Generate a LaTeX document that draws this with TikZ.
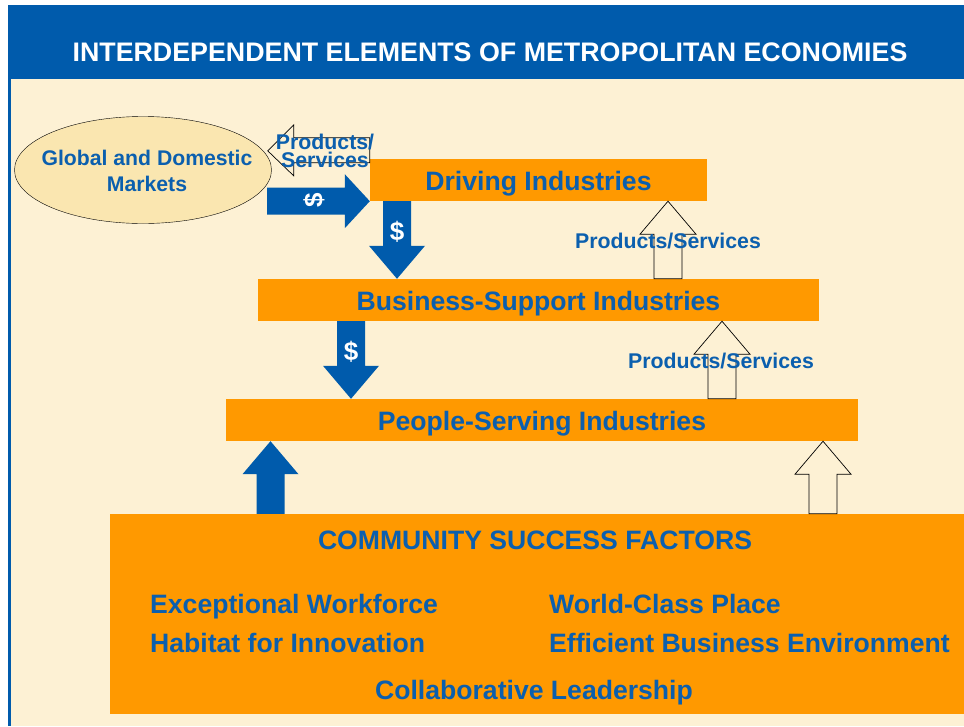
\documentclass[tikz,border=0pt]{standalone}
\usepackage{fontspec}
\setmainfont{Liberation Sans}
\usepackage{tikz}
\usetikzlibrary{calc,shapes.geometric}

\definecolor{hdblue}{HTML}{005BAC}
\definecolor{txtblue}{HTML}{0B5FAE}
\definecolor{indorange}{HTML}{FF9900}
\definecolor{cream}{HTML}{FDF1D4}
\definecolor{mktyellow}{HTML}{FAE6B0}

\tikzset{
  indbox/.style={fill=indorange, text=txtblue, inner sep=0, minimum height=42,
                 text height=24, text depth=3,
                 font=\bfseries\fontsize{26.6}{30}\selectfont},
  bluearr/.style={fill=hdblue, draw=none},
  openarr/.style={fill=cream, draw=black, line width=0.7pt},
  dollar/.style={text=white, inner sep=0, font=\bfseries\fontsize{26}{30}\selectfont},
  prodlabel/.style={text=txtblue, inner sep=0, font=\bfseries\fontsize{21.3}{18.5}\selectfont},
  factor/.style={text=txtblue, inner sep=0, font=\bfseries\fontsize{26.6}{30}\selectfont}
}

% block arrow going up from #3 to #4 at x=#2
\newcommand{\blockup}[4]{%
  \draw[#1] let \p1=(#3.north), \p2=(#4.south) in
    (#2-14,\y1) -- (#2-14,\y2-33) -- (#2-28,\y2-33) -- (#2,\y2)
    -- (#2+28,\y2-33) -- (#2+14,\y2-33) -- (#2+14,\y1) -- cycle;}
% block arrow going down from #3 to #4 at x=#2
\newcommand{\blockdown}[4]{%
  \draw[#1] let \p1=(#3.south), \p2=(#4.north) in
    (#2-14,\y1) -- (#2-14,\y2+33) -- (#2-28,\y2+33) -- (#2,\y2)
    -- (#2+28,\y2+33) -- (#2+14,\y2+33) -- (#2+14,\y1) -- cycle;}

\begin{document}
\begin{tikzpicture}[x=1pt,y=-1pt]
\useasboundingbox (0,0) rectangle (964,726);

%the frame
    \fill[hdblue] (8,5) rectangle (964,726);
    \fill[cream] (11,79) rectangle (964,726);
    \node[text=white, font=\bfseries\fontsize{26.8}{30}\selectfont] (title) at (490,52)
        {INTERDEPENDENT ELEMENTS OF METROPOLITAN ECONOMIES};

%the markets
    \node[ellipse, draw=black, thin, fill=mktyellow, minimum width=257, minimum height=107,
          inner sep=0] (mkt) at (143,170) {};
    \node[text=txtblue, align=center, font=\bfseries\fontsize{21.2}{26}\selectfont] (mkttxt)
        at (147,171) {Global and Domestic\\Markets};

%the industries
    \node[indbox, minimum width=337] (drive) at (538.5,180) {Driving Industries};
    \node[indbox, minimum width=561] (busi) at (538.5,300) {Business-Support Industries};
    \node[indbox, minimum width=632] (people) at (542,420) {People-Serving Industries};
    \node[fill=indorange, inner sep=0, minimum width=854, minimum height=200] (csf) at (537,614) {};

%the arrows
    \draw[openarr] let \p1=(drive.north west), \p2=(mkt.east) in
        (\x1,\y1+21) -- (\x2+22,\y1+21) -- (\x2+22,\y1+34) -- (\x2-4,\y1+8)
        -- (\x2+22,\y1-17) -- (\x2+22,\y1-4) -- (\x1,\y1-4) -- cycle;
    \draw[bluearr] let \p1=(drive.south west) in
        (267,\y1+13.5) -- (\x1-25,\y1+13.5) -- (\x1-25,\y1+27) -- (\x1,\y1)
        -- (\x1-25,\y1-27) -- (\x1-25,\y1-13.5) -- (267,\y1-13.5) -- cycle;
    \blockdown{bluearr}{397}{drive}{busi}
    \blockdown{bluearr}{351}{busi}{people}
    \blockup{openarr}{668}{busi}{drive}
    \blockup{openarr}{722}{people}{busi}
    \blockup{bluearr}{270.5}{csf}{people}
    \blockup{openarr}{823}{csf}{people}

% place the labels
    \node[dollar, rotate=90] (d1) at (314,200) {\$};
    \node[dollar] (d2) at (397,232) {\$};
    \node[dollar] (d3) at (351,352) {\$};
    \node[prodlabel, align=center] (ps1) at (325,151) {Products/\\Services};
    \node[prodlabel] (ps2) at (668,241) {Products/Services};
    \node[prodlabel] (ps3) at (721,361) {Products/Services};

% the success factors
    \node[factor, anchor=base] (csfhead) at (535,549) {COMMUNITY SUCCESS FACTORS};
\foreach \txt/\x/\y [count=\i] in {Exceptional Workforce/150/613, World-Class Place/549/613,
        Habitat for Innovation/150/652, Efficient Business Environment/549/652}
    \node[factor, anchor=base west] (fac\i) at (\x,\y) {\txt};
    \node[factor, anchor=base] (lead) at (534,699) {Collaborative Leadership};
\end{tikzpicture}
\end{document}
